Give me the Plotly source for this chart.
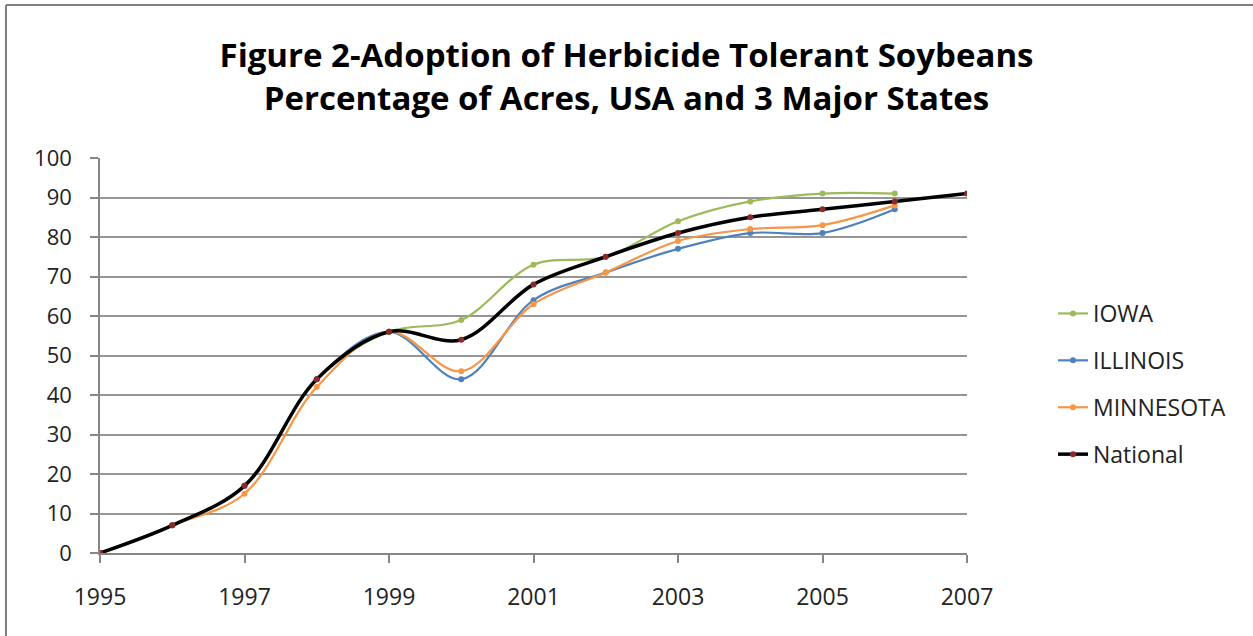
import plotly.graph_objects as go

years = [1995, 1996, 1997, 1998, 1999, 2000, 2001, 2002, 2003, 2004, 2005, 2006, 2007]
iowa = [0, 7, 17, 44, 56, 59, 73, 75, 84, 89, 91, 91, None]
illinois = [0, 7, 17, 44, 56, 44, 64, 71, 77, 81, 81, 87, None]
minnesota = [0, 7, 15, 42, 56, 46, 63, 71, 79, 82, 83, 88, None]
national = [0, 7, 17, 44, 56, 54, 68, 75, 81, 85, 87, 89, 91]

series = [
    ("IOWA", iowa, "#9BBB59", "#9BBB59", 2.2),
    ("ILLINOIS", illinois, "#4F81BD", "#4F81BD", 2.2),
    ("MINNESOTA", minnesota, "#F79646", "#F79646", 2.2),
    ("National", national, "#000000", "#8B2A2A", 3.5),
]

fig = go.Figure()
for name, vals, lc, mc, lw in series:
    xs = [x for x, v in zip(years, vals) if v is not None]
    ys = [v for v in vals if v is not None]
    fig.add_trace(go.Scatter(
        x=xs, y=ys, name=name, mode="lines+markers",
        line=dict(color=lc, width=lw, shape="spline", smoothing=1.0),
        marker=dict(color=mc, size=6),
        legendgroup=name,
    ))

W, H = 1253, 636
L, R, T, B = 100, 967, 158, 553
pw, ph = R - L, B - T

def px2paper_x(px):
    return (px - L) / pw

def px2paper_y(py):
    return (B - py) / ph

# outer chart border (top and left edges visible)
fig.add_shape(type="line", xref="paper", yref="paper",
              x0=px2paper_x(6), x1=px2paper_x(W + 5),
              y0=px2paper_y(5), y1=px2paper_y(5),
              line=dict(color="#7F7F7F", width=2), layer="below")
fig.add_shape(type="line", xref="paper", yref="paper",
              x0=px2paper_x(6), x1=px2paper_x(6),
              y0=px2paper_y(5), y1=px2paper_y(H + 5),
              line=dict(color="#7F7F7F", width=2), layer="below")

fig.update_layout(
    width=W, height=H,
    margin=dict(l=L, r=W - R, t=T, b=H - B),
    paper_bgcolor="white", plot_bgcolor="white",
    title=dict(
        text="Figure 2-Adoption of Herbicide Tolerant Soybeans<br>Percentage of Acres, USA and 3 Major States",
        x=0.5, xanchor="center", xref="container",
        y=1 - 67 / H, yanchor="top",
        font=dict(family="Open Sans", size=33, color="#000000", weight="bold"),
    ),
    font=dict(family="Open Sans", size=22, color="#222222"),
    showlegend=True,
    legend=dict(
        x=px2paper_x(1053), xanchor="left", y=px2paper_y(384), yanchor="middle",
        font=dict(family="Open Sans", size=23, color="#222222"),
        tracegroupgap=14, bgcolor="rgba(0,0,0,0)",
    ),
    xaxis=dict(
        range=[1995, 2007], tickvals=[1995, 1997, 1999, 2001, 2003, 2005, 2007],
        showgrid=False, zeroline=False, showline=True, linecolor="#868686", linewidth=1.5,
        ticks="outside", ticklen=8, tickcolor="#868686", tickwidth=1.5,
        ticklabelstandoff=15,
        tickfont=dict(size=23, color="#222222"),
    ),
    yaxis=dict(
        range=[0, 100], dtick=10, showgrid=True, gridcolor="#969696", gridwidth=1.5,
        zeroline=False, showline=True, linecolor="#868686", linewidth=1.5,
        ticks="outside", ticklen=8, tickcolor="#868686", tickwidth=1.5,
        ticklabelstandoff=14,
        tickfont=dict(size=22, color="#222222"),
    ),
)

fig.write_html("out.html", config={"displayModeBar": False},
               post_script="document.body.style.margin='0';document.body.style.overflow='hidden';")
